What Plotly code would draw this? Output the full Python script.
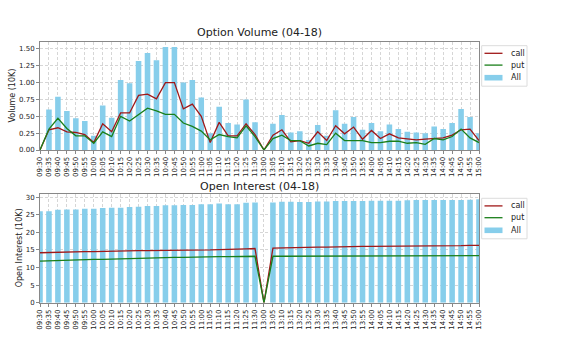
import plotly.graph_objects as go

times = ["09:30","09:35","09:40","09:45","09:50","09:55","10:00","10:05","10:10","10:15",
         "10:20","10:25","10:30","10:35","10:40","10:45","10:50","10:55","11:00","11:05",
         "11:10","11:15","11:20","11:25","11:30",
         "13:00","13:05","13:10","13:15","13:20","13:25","13:30","13:35","13:40","13:45",
         "13:50","13:55","14:00","14:05","14:10","14:15","14:20","14:25","14:30","14:35",
         "14:40","14:45","14:50","14:55","15:00"]

vol_all = [0, 0.60, 0.79, 0.58, 0.47, 0.43, 0.21, 0.66, 0.48, 1.04,
           0.99, 1.32, 1.44, 1.33, 1.53, 1.53, 1.00, 1.04, 0.78, 0.25,
           0.64, 0.40, 0.38, 0.75, 0.41,
           0, 0.39, 0.52, 0.26, 0.28, 0.15, 0.37, 0.21, 0.59, 0.39,
           0.49, 0.30, 0.40, 0.28, 0.38, 0.31, 0.27, 0.26, 0.25, 0.35,
           0.31, 0.40, 0.61, 0.49, 0.25]
vol_call = [0, 0.30, 0.33, 0.27, 0.26, 0.23, 0.11, 0.39, 0.27, 0.55,
            0.55, 0.81, 0.83, 0.76, 1.00, 1.00, 0.61, 0.68, 0.50, 0.11,
            0.41, 0.21, 0.21, 0.39, 0.23,
            0, 0.22, 0.30, 0.12, 0.14, 0.10, 0.27, 0.14, 0.36, 0.24,
            0.34, 0.16, 0.29, 0.17, 0.24, 0.18, 0.17, 0.15, 0.16, 0.17,
            0.18, 0.22, 0.30, 0.31, 0.14]
vol_put = [0, 0.31, 0.47, 0.32, 0.21, 0.21, 0.10, 0.27, 0.20, 0.50,
           0.43, 0.52, 0.62, 0.58, 0.53, 0.53, 0.40, 0.35, 0.28, 0.15,
           0.23, 0.20, 0.18, 0.36, 0.20,
           0, 0.17, 0.22, 0.14, 0.14, 0.06, 0.10, 0.08, 0.25, 0.14,
           0.14, 0.14, 0.11, 0.11, 0.13, 0.13, 0.10, 0.11, 0.085, 0.17,
           0.15, 0.20, 0.31, 0.18, 0.11]

oi_all = [26.0, 26.0, 26.4, 26.5, 26.5, 26.7, 26.7, 26.9, 27.0, 27.0,
          27.2, 27.3, 27.5, 27.5, 27.7, 27.7, 27.8, 27.8, 28.0, 28.0,
          28.2, 28.0, 28.0, 28.4, 28.5,
          0, 28.5, 28.7, 28.7, 28.6, 28.6, 28.8, 28.8, 28.9, 28.9,
          28.9, 28.9, 29.0, 29.0, 29.0, 29.0, 29.1, 29.2, 29.2, 29.2,
          29.2, 29.2, 29.2, 29.3, 29.4]
oi_call = [14.2, 14.3, 14.3, 14.4, 14.4, 14.5, 14.5, 14.6, 14.6, 14.7,
           14.7, 14.8, 14.8, 14.8, 14.9, 14.9, 14.9, 15.0, 15.0, 15.0,
           15.1, 15.1, 15.2, 15.3, 15.4,
           0, 15.5, 15.6, 15.6, 15.7, 15.7, 15.8, 15.8, 15.9, 15.9,
           15.9, 16.0, 16.0, 16.0, 16.0, 16.1, 16.1, 16.1, 16.1, 16.2,
           16.2, 16.2, 16.2, 16.3, 16.3]
oi_put = [11.8, 11.9, 12.1, 12.1, 12.2, 12.2, 12.3, 12.3, 12.4, 12.4,
          12.5, 12.6, 12.7, 12.8, 12.8, 12.9, 12.9, 13.0, 13.0, 13.0,
          13.1, 13.1, 13.1, 13.2, 13.2,
          0, 13.2, 13.2, 13.2, 13.2, 13.2, 13.3, 13.3, 13.3, 13.3,
          13.3, 13.3, 13.3, 13.3, 13.3, 13.3, 13.3, 13.3, 13.4, 13.4,
          13.4, 13.4, 13.4, 13.4, 13.4]

series_names = ["call", "put", "All"]

BAR = "#87CEEB"
CALL = "#a01818"
PUT = "#1a7f1a"
FONT = "DejaVu Sans"
TXT = "#222"

fig = go.Figure()
for xa, ya, a, c, p in [("x", "y", vol_all, vol_call, vol_put),
                        ("x2", "y2", oi_all, oi_call, oi_put)]:
    fig.add_trace(go.Bar(x=times, y=a, name="All", marker_color=BAR, marker_line_width=0,
                         width=0.62, xaxis=xa, yaxis=ya, showlegend=False))
    fig.add_trace(go.Scatter(x=times, y=c, name="call", mode="lines",
                             line=dict(color=CALL, width=1.3), xaxis=xa, yaxis=ya,
                             showlegend=False))
    fig.add_trace(go.Scatter(x=times, y=p, name="put", mode="lines",
                             line=dict(color=PUT, width=1.3), xaxis=xa, yaxis=ya,
                             showlegend=False))

W, H = 576, 346
xdom = [40 / W, 479 / W]
top_dom = [1 - 150 / H, 1 - 41.7 / H]
bot_dom = [1 - 302.7 / H, 1 - 194 / H]

common_x = dict(type="category", range=[0, len(times) - 1], tickangle=-90,
                tickfont=dict(size=7, color=TXT), showgrid=True, gridcolor="#d6d6d6",
                griddash="3px,2px", gridwidth=1, showline=True, linecolor="#888", linewidth=1,
                mirror=True, ticks="outside", ticklen=3, tickcolor="#888",
                automargin=False, zeroline=False, dtick=1)
common_y = dict(tickfont=dict(size=7, color=TXT), showgrid=True, gridcolor="#d6d6d6",
                griddash="3px,2px", gridwidth=1, showline=True, linecolor="#888", linewidth=1,
                mirror=True, ticks="outside", ticklen=3, tickcolor="#888",
                automargin=False, zeroline=False)

def px(x):
    return x / W

def py(y):
    return 1 - y / H

shapes = []
annotations = [
    dict(text="Option Volume (04-18)", x=(xdom[0] + xdom[1]) / 2, y=py(33),
         xref="paper", yref="paper", showarrow=False, xanchor="center", yanchor="middle",
         font=dict(family=FONT, size=11, color=TXT)),
    dict(text="Open Interest (04-18)", x=(xdom[0] + xdom[1]) / 2, y=py(186.7),
         xref="paper", yref="paper", showarrow=False, xanchor="center", yanchor="middle",
         font=dict(family=FONT, size=11, color=TXT)),
    dict(text="Volume (10K)", x=px(12.7), y=(top_dom[0] + top_dom[1]) / 2,
         xref="paper", yref="paper", showarrow=False, textangle=-90,
         xanchor="center", yanchor="middle", font=dict(family=FONT, size=8, color=TXT)),
    dict(text="Open Interest (10K)", x=px(19), y=(bot_dom[0] + bot_dom[1]) / 2,
         xref="paper", yref="paper", showarrow=False, textangle=-90,
         xanchor="center", yanchor="middle", font=dict(family=FONT, size=8, color=TXT)),
]

# legends (one per subplot), drawn as shapes + text
for top in (45.7, 198.3):
    shapes.append(dict(type="rect", xref="paper", yref="paper",
                       x0=px(481.7), x1=px(527), y0=py(top), y1=py(top + 40.5),
                       line=dict(color="#dcdcdc", width=1), fillcolor="white", layer="above"))
    rows = [top + 7.6, top + 19.4, top + 32.0]
    styles = [("line", CALL), ("line", PUT), ("rect", BAR)]
    for name, yy, (kind, col) in zip(series_names, rows, styles):
        if kind == "line":
            shapes.append(dict(type="line", xref="paper", yref="paper",
                               x0=px(484.5), x1=px(502.5), y0=py(yy), y1=py(yy),
                               line=dict(color=col, width=1.3), layer="above"))
        else:
            shapes.append(dict(type="rect", xref="paper", yref="paper",
                               x0=px(484.5), x1=px(502.5), y0=py(yy - 2.8), y1=py(yy + 2.8),
                               line=dict(width=0), fillcolor=col, layer="above"))
        annotations.append(dict(text=name, x=px(508.5), y=py(yy), xref="paper", yref="paper",
                                showarrow=False, xanchor="left", yanchor="middle",
                                font=dict(family=FONT, size=8, color=TXT)))

fig.update_layout(
    width=W, height=H, margin=dict(l=0, r=0, t=0, b=0),
    paper_bgcolor="white", plot_bgcolor="white",
    font=dict(family=FONT, color=TXT),
    showlegend=False,
    xaxis=dict(domain=xdom, anchor="y", **common_x),
    yaxis=dict(domain=top_dom, anchor="x", range=[0, 1.607], tickformat=".2f",
               tickvals=[0, 0.25, 0.5, 0.75, 1.0, 1.25, 1.5], **common_y),
    xaxis2=dict(domain=xdom, anchor="y2", **common_x),
    yaxis2=dict(domain=bot_dom, anchor="x2", range=[0, 30.9],
                tickvals=[0, 5, 10, 15, 20, 25, 30], **common_y),
    shapes=shapes,
    annotations=annotations,
)

fig.write_html("out.html")
